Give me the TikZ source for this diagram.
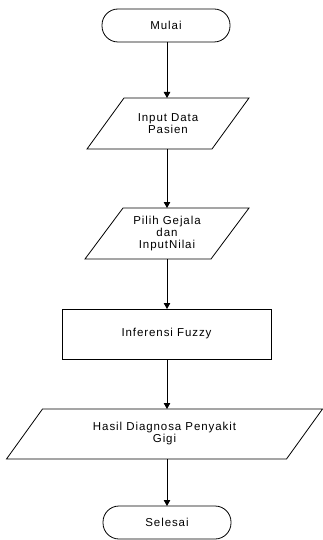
\documentclass[tikz,border=0pt]{standalone}
\usepackage{fontspec}
\setmainfont{Liberation Sans}
\newfontfamily\lblfont[LetterSpace=8]{Liberation Sans}
\usetikzlibrary{arrows.meta,calc}
\tikzset{
  lbl/.style={font=\lblfont\fontsize{11.5}{12}\selectfont, align=center, inner sep=0pt, outer sep=0pt},
  term/.style={lbl, draw, line width=0.8pt, rounded corners=16pt, minimum width=128pt, minimum height=33pt},
  procbox/.style={lbl, draw, line width=0.8pt, minimum width=209pt, minimum height=50pt},
  iobox/.style={lbl, minimum height=51pt},
  flow/.style={line width=0.8pt, -{Triangle[width=6.5pt,length=6pt]}},
  shapeline/.style={line width=0.8pt}
}
\newcommand{\paral}[2]{%
  \draw[shapeline] ($(#1.north west)+(#2/2,0)$) -- ($(#1.north east)+(#2/2,0)$) --
    ($(#1.south east)-(#2/2,0)$) -- ($(#1.south west)-(#2/2,0)$) -- cycle;}
\begin{document}
\begin{tikzpicture}[x=1pt,y=-1pt]
\useasboundingbox (0,0) rectangle (322,540);
\node[term] (start) at (166,25.5) {Mulai};
\node[iobox, minimum width=125pt] (in1) at (168,123.5) {Input Data\\Pasien};
\paral{in1}{37}
\node[iobox, minimum width=126pt] (in2) at (167,233.5) {Pilih Gejala\\dan\\InputNilai};
\paral{in2}{38}
\node[procbox] (proc) at (166.5,334) {Inferensi Fuzzy};
\node[iobox, minimum width=280pt, minimum height=50pt] (out) at (164.5,434) {Hasil Diagnosa Penyakit\\Gigi};
\paral{out}{36}
\node[term] (stop) at (167,522.5) {Selesai};
\coordinate (ax) at (167,0);
\draw[flow] (ax |- start.south) -- (ax |- in1.north);
\draw[flow] (ax |- in1.south) -- (ax |- in2.north);
\draw[flow] (ax |- in2.south) -- (ax |- proc.north);
\draw[flow] (ax |- proc.south) -- (ax |- out.north);
\draw[flow] (ax |- out.south) -- (ax |- stop.north);
\end{tikzpicture}
\end{document}
